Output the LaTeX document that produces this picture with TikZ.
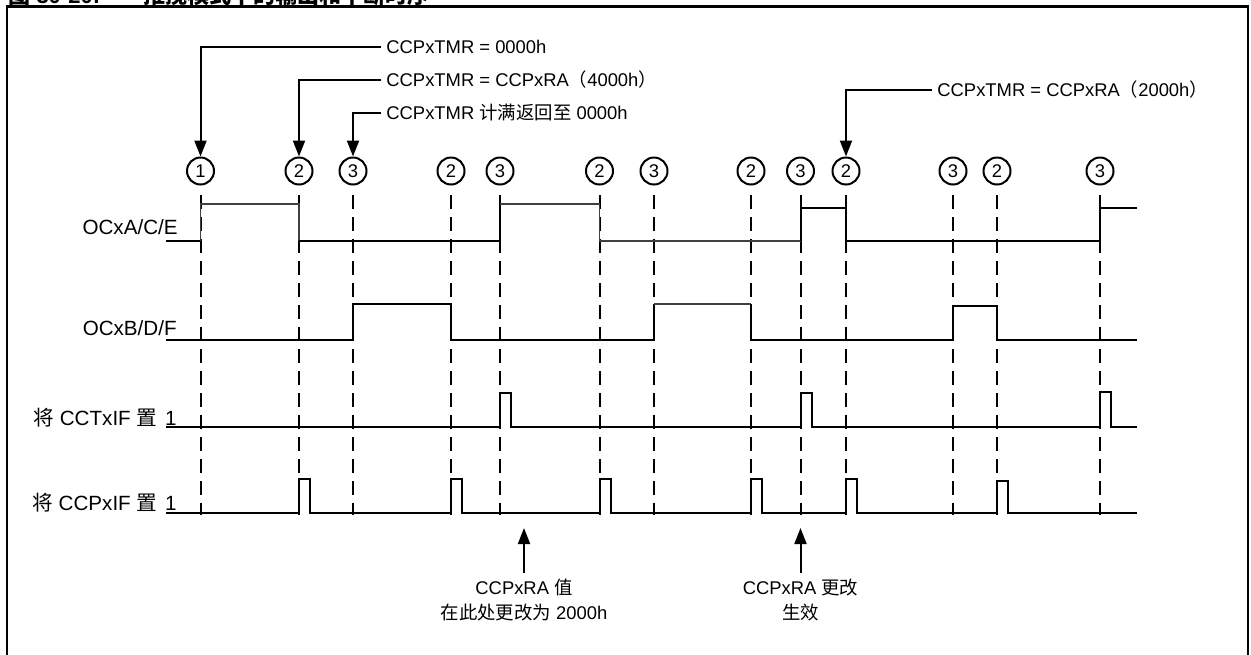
\documentclass[tikz,border=0pt]{standalone}
\usepackage{fontspec}
\setmainfont{Liberation Sans}
\newfontfamily\cjk{Noto Sans CJK SC}
\usetikzlibrary{arrows.meta}
\begin{document}
\begin{tikzpicture}[x=0.5pt,y=-0.5pt,
  every node/.style={font=\fontsize{9.2}{12.35}\selectfont, inner sep=0pt},
  circ/.style={circle, draw, line width=1pt, minimum size=13.5pt, inner sep=0pt},
  sig/.style={line width=1pt, line join=miter},
  thinsig/.style={line width=0.6pt, draw=black!75},
  guide/.style={line width=1pt, dash pattern=on 7pt off 4pt},
  callout/.style={line width=1pt, -{Triangle[length=8pt,width=6pt]}},
  lbl/.style={anchor=base east, font=\fontsize{10.3}{12}\selectfont},
  note/.style={anchor=west, text height=6.6pt, text depth=0pt, inner xsep=2.5pt, inner ysep=0pt},
  bnote/.style={anchor=north, align=center, inner ysep=3pt},
  ttl/.style={anchor=base west, font=\fontsize{11}{13}\selectfont\bfseries},
]
\useasboundingbox (0,0) rectangle (1251,654);

% title (cropped as in the reference) and frame
\node[ttl] (ttlA) at (8,3.5) {{\cjk 图} 30-20:};
\node[ttl] (ttlB) at (143,3.5) {\cjk 推挽模式下的输出和中断时序};
\draw[line width=1.2pt] (7,660) -- (7,6.5) -- (1248,6.5) -- (1248,660);

% event markers
\node[circ] (c1)  at (200.5,171) {1};
\node[circ] (c2)  at (299,171)   {2};
\node[circ] (c3)  at (353,171)   {3};
\node[circ] (c4)  at (451,171)   {2};
\node[circ] (c5)  at (500,171)   {3};
\node[circ] (c6)  at (599.5,171) {2};
\node[circ] (c7)  at (654,171)   {3};
\node[circ] (c8)  at (751,171)   {2};
\node[circ] (c9)  at (800.5,171) {3};
\node[circ] (c10) at (846,171)   {2};
\node[circ] (c11) at (953,171)   {3};
\node[circ] (c12) at (997,171)   {2};
\node[circ] (c13) at (1100,171)  {3};

\coordinate (gtop) at (0,195);
\coordinate (gbot) at (0,515);
\foreach \i in {1,...,13} {
  \draw[guide] (c\i |- gtop) -- (c\i |- gbot);
}

% callouts
\node[note] (t1) at (381,47)  {CCPxTMR = 0000h};
\node[note] (t2) at (381,80)  {CCPxTMR = CCPxRA{\cjk （}4000h{\cjk ）}};
\node[note] (t3) at (381,113) {CCPxTMR {\cjk 计满返回至} 0000h};
\node[note] (t4) at (932,90)  {CCPxTMR = CCPxRA{\cjk （}2000h{\cjk ）}};
\draw[callout] (t1.west) -| (c1.north);
\draw[callout] (t2.west) -| (c2.north);
\draw[callout] (t3.west) -| (c3.north);
\draw[callout] (t4.west) -| (c10.north);

% signal labels
\node[lbl] (l1) at (178,234) {OCxA/C/E};
\node[lbl] (l2) at (177,335) {OCxB/D/F};
\node[lbl] (l3) at (177,425) {{\cjk 将} CCTxIF {\cjk 置}\hspace{4pt}1};
\node[lbl] (l4) at (177,510) {{\cjk 将} CCPxIF {\cjk 置}\hspace{4pt}1};

% OCxA/C/E
\draw[sig] (166,241) -- (200.5,241);
\draw[thinsig] (200.5,241) -- (200.5,204) -- (299,204) -- (299,241);
\draw[sig] (299,241) -- (500,241) -- (500,204);
\draw[thinsig] (500,204) -- (599.5,204) -- (599.5,241) -- (800.5,241);
\draw[sig] (800.5,241) -- (800.5,208) -- (846,208) -- (846,241) -- (1100,241) -- (1100,208) -- (1137,208);

% OCxB/D/F
\draw[sig] (166,340) -- (353,340) -- (353,304) -- (451,304) -- (451,340) -- (654,340) -- (654,304);
\draw[thinsig] (654,304) -- (751,304);
\draw[sig] (751,304) -- (751,340) -- (953,340) -- (953,306) -- (997,306) -- (997,340) -- (1137,340);

% CCTxIF
\draw[sig] (166,427) -- (500,427) -- (500,393) -- (511,393) -- (511,427)
  -- (800.5,427) -- (800.5,393) -- (811.5,393) -- (811.5,427)
  -- (1100,427) -- (1100,392) -- (1111,392) -- (1111,427) -- (1137,427);

% CCPxIF
\draw[sig] (166,513) -- (299,513) -- (299,479) -- (310,479) -- (310,513)
  -- (451,513) -- (451,479) -- (462,479) -- (462,513)
  -- (599.5,513) -- (599.5,479) -- (610.5,479) -- (610.5,513)
  -- (751,513) -- (751,479) -- (762,479) -- (762,513)
  -- (846,513) -- (846,479) -- (857,479) -- (857,513)
  -- (997,513) -- (997,481) -- (1008,481) -- (1008,513) -- (1137,513);

% bottom notes
\node[bnote] (n1) at (524,572.6) {CCPxRA {\cjk 值}\\{\cjk 在此处更改为} 2000h};
\node[bnote] (n2) at (800.5,572.6) {CCPxRA {\cjk 更改}\\{\cjk 生效}};
\coordinate (p1) at (524,528);
\coordinate (p2) at (800.5,528);
\draw[callout] (n1.north) -- (p1);
\draw[callout] (n2.north) -- (p2);
\end{tikzpicture}
\end{document}
